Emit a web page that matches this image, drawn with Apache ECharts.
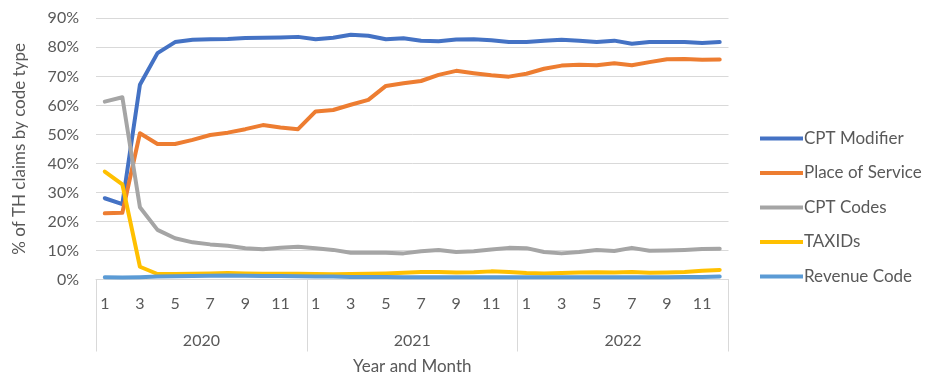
<!DOCTYPE html>
<html>
<head>
<meta charset="utf-8">
<script src="https://cdn.jsdelivr.net/npm/echarts@6/dist/echarts.min.js"></script>
<style>
  html, body { margin: 0; padding: 0; background: #ffffff; }
  #chart { width: 933px; height: 377px; }
</style>
</head>
<body>
<div id="chart"></div>
<script>
// Years and months shown on the two-level category axis
const years = ['2020', '2021', '2022'];
const months = ['1', '2', '3', '4', '5', '6', '7', '8', '9', '10', '11', '12'];

// Y-axis tick values (percent)
const yTicks = [0, 10, 20, 30, 40, 50, 60, 70, 80, 90];

// Share of TH claims by code type, percent, one value per month (Jan 2020 .. Dec 2022)
const cptModifier = [
  28.0, 26.0, 67.1, 78.0, 81.8, 82.6, 82.8, 82.9, 83.2, 83.3, 83.4, 83.6,
  82.8, 83.3, 84.3, 84.0, 82.8, 83.1, 82.3, 82.1, 82.7, 82.8, 82.4, 81.8,
  81.8, 82.3, 82.6, 82.3, 81.8, 82.3, 81.2, 81.8, 81.8, 81.8, 81.5, 81.8
];
const placeOfService = [
  22.8, 23.0, 50.4, 46.7, 46.7, 48.1, 49.8, 50.6, 51.8, 53.2, 52.4, 51.8,
  57.9, 58.4, 60.2, 61.9, 66.7, 67.6, 68.4, 70.5, 71.9, 71.1, 70.4, 69.9,
  70.9, 72.6, 73.7, 74.0, 73.8, 74.5, 73.8, 74.9, 75.9, 76.0, 75.7, 75.8
];
const cptCodes = [
  61.3, 62.8, 24.9, 17.1, 14.2, 12.8, 12.1, 11.6, 10.8, 10.4, 10.9, 11.3,
  10.8, 10.2, 9.2, 9.2, 9.2, 9.0, 9.7, 10.2, 9.5, 9.7, 10.3, 10.9,
  10.8, 9.5, 9.0, 9.5, 10.2, 9.8, 10.9, 9.9, 10.0, 10.2, 10.5, 10.6
];
const taxIds = [
  37.2, 32.8, 4.4, 1.9, 1.9, 2.0, 2.1, 2.2, 2.1, 2.0, 2.0, 2.0,
  1.9, 1.8, 1.9, 2.0, 2.1, 2.3, 2.6, 2.6, 2.4, 2.5, 2.8, 2.6,
  2.2, 2.1, 2.2, 2.4, 2.5, 2.4, 2.6, 2.3, 2.4, 2.6, 3.0, 3.3
];
const revenueCode = [
  0.8, 0.7, 0.8, 1.0, 1.1, 1.2, 1.3, 1.4, 1.3, 1.2, 1.2, 1.1,
  1.0, 1.0, 0.9, 0.9, 0.9, 0.8, 0.8, 0.8, 0.8, 0.8, 0.8, 0.8,
  0.8, 0.8, 0.8, 0.8, 0.8, 0.8, 0.8, 0.8, 0.8, 0.9, 0.9, 1.0
];

const seriesNames = ['CPT Modifier', 'Place of Service', 'CPT Codes', 'TAXIDs', 'Revenue Code'];
const seriesData = [cptModifier, placeOfService, cptCodes, taxIds, revenueCode];
const seriesColors = ['#4472C4', '#ED7D31', '#A5A5A5', '#FFC000', '#5B9BD5'];

// Unique category keys "year-month"; the label shows only the month
const monthCategories = [];
years.forEach(y => months.forEach(m => monthCategories.push(y + '-' + m)));

const FONT = 'Lato, "Open Sans", sans-serif';
const TEXT = '#595959';
const RULE = '#D9D9D9';

const chart = echarts.init(document.getElementById('chart'), null, { renderer: 'canvas' });

chart.setOption({
  animation: false,
  backgroundColor: '#ffffff',
  textStyle: { fontFamily: FONT },
  grid: {
    left: 96,
    right: 204.5,
    top: 18.3,
    bottom: 97.5,
    containLabel: false,
    outerBoundsMode: 'none'
  },
  legend: {
    orient: 'vertical',
    left: 755,
    top: 125,
    icon: 'rect',
    itemWidth: 43,
    itemHeight: 4,
    itemGap: 17.5,
    data: seriesNames,
    textStyle: { color: TEXT, fontSize: 17, fontFamily: FONT, padding: [0, 0, 0, -4] }
  },
  xAxis: [
    {
      type: 'category',
      data: monthCategories,
      boundaryGap: true,
      axisLine: { show: true, lineStyle: { color: RULE, width: 1 } },
      axisTick: { show: false },
      axisLabel: {
        interval: 1,
        margin: 16,
        color: TEXT,
        fontSize: 16,
        fontFamily: FONT,
        formatter: v => v.split('-')[1]
      },
      splitLine: { show: false }
    },
    {
      type: 'category',
      data: years,
      position: 'bottom',
      boundaryGap: true,
      axisLine: { show: false },
      axisTick: { show: true, length: 72, lineStyle: { color: RULE, width: 1 } },
      axisLabel: { margin: 53, color: TEXT, fontSize: 16, fontFamily: FONT },
      splitLine: { show: false },
      name: 'Year and Month',
      nameLocation: 'middle',
      nameGap: 79,
      nameTextStyle: { color: TEXT, fontSize: 17, fontFamily: FONT }
    }
  ],
  yAxis: {
    type: 'value',
    min: yTicks[0],
    max: yTicks[yTicks.length - 1],
    interval: yTicks[1] - yTicks[0],
    axisLine: { show: false },
    axisTick: { show: false },
    axisLabel: {
      margin: 17,
      color: TEXT,
      fontSize: 16,
      fontFamily: FONT,
      formatter: '{value}%'
    },
    splitLine: { show: true, lineStyle: { color: RULE, width: 1 } },
    name: '% of TH claims by code type',
    nameLocation: 'middle',
    nameGap: 68,
    nameTextStyle: { color: TEXT, fontSize: 17, fontFamily: FONT }
  },
  series: seriesNames.map((name, i) => ({
    name: name,
    type: 'line',
    xAxisIndex: 0,
    data: seriesData[i],
    symbol: 'none',
    smooth: false,
    z: 2 + i,
    color: seriesColors[i],
    lineStyle: { color: seriesColors[i], width: 4, cap: 'round', join: 'round' }
  }))
});
</script>
</body>
</html>
